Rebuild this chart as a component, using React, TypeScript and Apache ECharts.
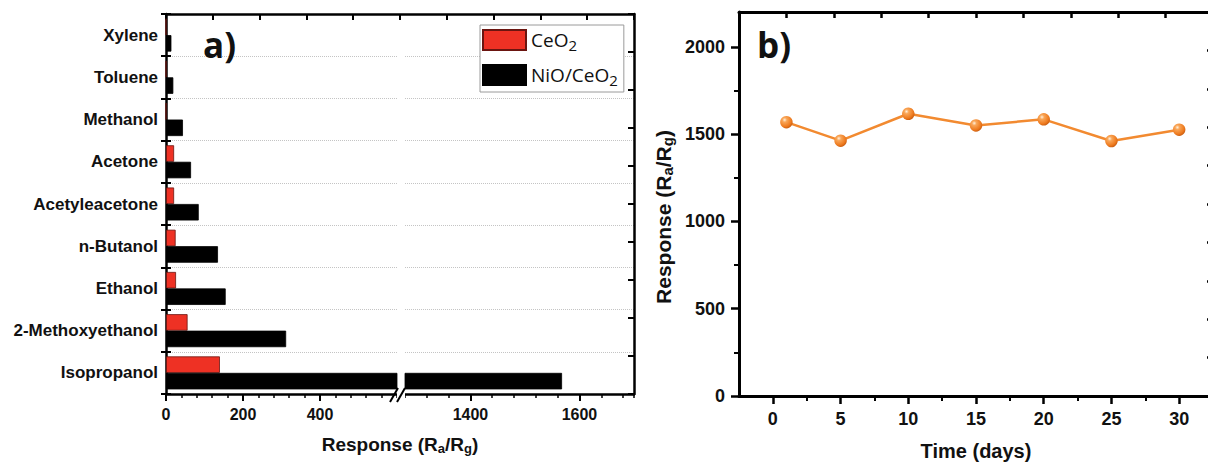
import React, { useEffect, useRef } from 'react';
import * as echarts from 'echarts';

// ---------- data ----------
const solvents = ['Isopropanol', '2-Methoxyethanol', 'Ethanol', 'n-Butanol', 'Acetyleacetone', 'Acetone', 'Methanol', 'Toluene', 'Xylene'];
const ceo2Response = [140, 56, 26, 25, 21, 21, 0, 0, 0];
const nioCeo2Response = [1568, 312, 155, 135, 85, 65, 44, 19, 14];
const lowAxisLabels = [0, 200, 400];
const highAxisLabels = [1400, 1600];
const days = [1, 5, 10, 15, 20, 25, 30];
const stabilityResponse = [1569, 1463, 1617, 1550, 1585, 1461, 1526];
const dayLabels = [0, 5, 10, 15, 20, 25, 30];
const dayMinorTicks = [2.5, 7.5, 12.5, 17.5, 22.5, 27.5];
const responseLabels = [0, 500, 1000, 1500, 2000];
const responseMinorTicks = [250, 750, 1250, 1750];

const LOW_MAX = 600;
const HIGH_MIN = 1280;
const HIGH_MAX = 1700;

const FONT = 'Liberation Sans';
const RED = '#ee3124';
const ORANGE = '#f28a30';

const plain = (v: number) => String(v);
const axisLine = (w: number) => ({ show: true, onZero: false, lineStyle: { color: '#000', width: w } });
const noLine = { show: false, onZero: false };
const tick = (len: number, w: number, extra: any = {}) => ({ show: true, length: len, lineStyle: { color: '#000', width: w }, ...extra });
const labelStyle = (size: number, margin: number, extra: any = {}) => ({
  fontFamily: FONT, fontWeight: 'bold', fontSize: size, color: '#111', margin, ...extra,
});
const subRich = (main: number, sub: number) => ({
  m: { fontFamily: FONT, fontWeight: 'bold', fontSize: main, color: '#111', lineHeight: main + 3 },
  s: { fontFamily: FONT, fontWeight: 'bold', fontSize: sub, color: '#111', lineHeight: sub, padding: [Math.round(main * 0.42), 0, 0, 0] },
});
const responseName = '{m|Response (R}{s|a}{m|/R}{s|g}{m|)}';
const grid = (left: number, top: number, width: number, height: number) => ({
  left, top, width, height, containLabel: false, outerBoundsMode: 'none',
});

export default function App() {
  const ref = useRef<HTMLDivElement>(null);
  useEffect(() => {
    if (!ref.current) return;
    const chart = echarts.init(ref.current, undefined, { renderer: 'svg' });
    const sphere = new echarts.graphic.RadialGradient(0.36, 0.32, 0.72, [
      { offset: 0, color: '#fff0dc' },
      { offset: 0.25, color: '#f9a658' },
      { offset: 0.75, color: '#ee7a1e' },
      { offset: 1, color: '#c85c10' },
    ]);
    const highOnly = (arr: number[]) => arr.map((v) => (v > HIGH_MIN ? v : '-'));
    const option: any = {
      animation: false,
      backgroundColor: '#fff',
      grid: [
        grid(166, 14, 231, 380), // a, low segment
        grid(405, 14, 229, 380), // a, high segment
        grid(166, 14, 468, 380), // a, frame
        grid(739, 12, 474, 384), // b
      ],
      legend: {
        data: ['CeO2', 'NiO/CeO2'],
        orient: 'vertical',
        left: 480,
        top: 25,
        icon: 'rect',
        itemWidth: 43,
        itemHeight: 20,
        itemGap: 11,
        padding: [3, 6, 5, 2],
        borderColor: '#9a9a9a',
        borderWidth: 1,
        backgroundColor: '#fff',
        selectedMode: false,
        formatter: (name: string) => (name === 'CeO2' ? '{t|CeO}{s|2}' : '{t|NiO/CeO}{s|2}'),
        textStyle: {
          rich: {
            t: { fontFamily: 'Open Sans', fontSize: 19, color: '#111', lineHeight: 22 },
            s: { fontFamily: 'Open Sans', fontSize: 15, color: '#111', lineHeight: 15, padding: [9, 0, 0, 0] },
          },
        },
      },
      xAxis: [
        {
          gridIndex: 0, type: 'value', min: 0, max: LOW_MAX, position: 'bottom',
          axisLine: axisLine(2.5), axisTick: tick(7, 2, { customValues: lowAxisLabels }),
          axisLabel: { ...labelStyle(16, 12), customValues: lowAxisLabels, formatter: plain }, splitLine: { show: false },
        },
        {
          gridIndex: 0, type: 'value', min: 0, max: LOW_MAX, interval: 40, position: 'bottom',
          axisLine: noLine, axisTick: tick(4, 1.5), axisLabel: { show: false }, splitLine: { show: false },
        },
        {
          gridIndex: 1, type: 'value', min: HIGH_MIN, max: HIGH_MAX, position: 'bottom',
          axisLine: axisLine(2.5), axisTick: tick(7, 2, { customValues: highAxisLabels }),
          axisLabel: { ...labelStyle(16, 12), customValues: highAxisLabels, formatter: plain }, splitLine: { show: false },
        },
        {
          gridIndex: 1, type: 'value', min: HIGH_MIN, max: HIGH_MAX, interval: 40, position: 'bottom',
          axisLine: noLine, axisTick: tick(4, 1.5), axisLabel: { show: false }, splitLine: { show: false },
        },
        {
          gridIndex: 2, type: 'value', min: 0, max: 10, interval: 1, position: 'top',
          axisLine: axisLine(2.5), axisTick: tick(6, 2, { inside: true }), axisLabel: { show: false }, splitLine: { show: false },
        },
        {
          gridIndex: 2, type: 'value', min: 0, max: 10, position: 'bottom',
          axisLine: noLine, axisTick: { show: false }, axisLabel: { show: false }, splitLine: { show: false },
          name: responseName, nameLocation: 'middle', nameGap: 39,
          nameTextStyle: { rich: subRich(19, 13) },
        },
        {
          gridIndex: 3, type: 'value', min: -2.5, max: 32.5, position: 'bottom',
          axisLine: axisLine(3), axisTick: tick(8, 2.5, { customValues: dayLabels }),
          axisLabel: { ...labelStyle(18, 14), customValues: dayLabels, formatter: plain }, splitLine: { show: false },
          name: 'Time (days)', nameLocation: 'middle', nameGap: 45,
          nameTextStyle: { fontFamily: FONT, fontWeight: 'bold', fontSize: 20, color: '#111' },
        },
        {
          gridIndex: 3, type: 'value', min: -2.5, max: 32.5, position: 'bottom',
          axisLine: noLine, axisTick: tick(5, 2, { customValues: dayMinorTicks }), axisLabel: { show: false }, splitLine: { show: false },
        },
        {
          gridIndex: 3, type: 'value', min: 0, max: 10, interval: 1, position: 'top',
          axisLine: axisLine(3), axisTick: tick(6, 2.5, { inside: true }), axisLabel: { show: false }, splitLine: { show: false },
        },
      ],
      yAxis: [
        {
          gridIndex: 0, type: 'category', data: solvents, position: 'left',
          axisLine: axisLine(2.5), axisTick: tick(5, 2),
          axisLabel: labelStyle(17, 8),
          splitLine: { show: true, lineStyle: { color: '#c4c4c4', type: 'dotted', width: 1 } },
        },
        {
          gridIndex: 0, type: 'category', data: solvents, position: 'left',
          axisLine: noLine, axisTick: tick(5, 2, { inside: true }), axisLabel: { show: false }, splitLine: { show: false },
        },
        {
          gridIndex: 1, type: 'category', data: solvents, position: 'left',
          axisLine: noLine, axisTick: { show: false }, axisLabel: { show: false },
          splitLine: { show: true, lineStyle: { color: '#c4c4c4', type: 'dotted', width: 1 } },
        },
        {
          gridIndex: 2, type: 'value', min: 0, max: 10, interval: 1, position: 'right',
          axisLine: axisLine(2.5), axisTick: tick(6, 2, { inside: true }), axisLabel: { show: false }, splitLine: { show: false },
        },
        {
          gridIndex: 3, type: 'value', min: 0, max: 2200, position: 'left',
          axisLine: axisLine(3), axisTick: tick(8, 2.5, { customValues: responseLabels }),
          axisLabel: { ...labelStyle(18, 14), customValues: responseLabels, formatter: plain }, splitLine: { show: false },
          name: responseName, nameLocation: 'middle', nameGap: 64, nameRotate: 90,
          nameTextStyle: { rich: subRich(21, 15), padding: [0, 26, 0, 0] },
        },
        {
          gridIndex: 3, type: 'value', min: 0, max: 2200, position: 'left',
          axisLine: noLine, axisTick: tick(5, 2, { customValues: responseMinorTicks }), axisLabel: { show: false }, splitLine: { show: false },
        },
        {
          gridIndex: 3, type: 'value', min: 0, max: 10, interval: 1, position: 'right',
          axisLine: axisLine(3), axisTick: tick(6, 2.5, { inside: true }), axisLabel: { show: false }, splitLine: { show: false },
        },
      ],
      series: [
        {
          type: 'bar', name: 'CeO2', xAxisIndex: 0, yAxisIndex: 0, data: ceo2Response, clip: true,
          barWidth: 16.5, barGap: '0%', itemStyle: { color: RED, borderColor: '#6b1510', borderWidth: 0.8 },
        },
        {
          type: 'bar', name: 'NiO/CeO2', xAxisIndex: 0, yAxisIndex: 0, data: nioCeo2Response, clip: true,
          barWidth: 16.5, barGap: '0%', itemStyle: { color: '#000', borderColor: '#000', borderWidth: 0.8 },
        },
        {
          type: 'bar', name: 'CeO2', xAxisIndex: 2, yAxisIndex: 2, data: highOnly(ceo2Response), clip: true,
          barWidth: 16.5, barGap: '0%', itemStyle: { color: RED, borderColor: '#6b1510', borderWidth: 0.8 },
        },
        {
          type: 'bar', name: 'NiO/CeO2', xAxisIndex: 2, yAxisIndex: 2, data: highOnly(nioCeo2Response), clip: true,
          barWidth: 16.5, barGap: '0%', itemStyle: { color: '#000', borderColor: '#000', borderWidth: 0.8 },
        },
        {
          type: 'line', name: 'Stability', xAxisIndex: 6, yAxisIndex: 4,
          data: days.map((d, i) => [d, stabilityResponse[i]]),
          symbol: 'circle', symbolSize: 12.5, z: 5,
          lineStyle: { color: ORANGE, width: 2.5 },
          itemStyle: { color: sphere, borderWidth: 0 },
        },
      ],
      graphic: [
        { type: 'text', z: 10, style: { x: 203, y: 44, text: 'a)', font: 'bold 35px "Open Sans"', fill: '#111', align: 'left', verticalAlign: 'middle' } },
        { type: 'text', z: 10, style: { x: 757, y: 44, text: 'b)', font: 'bold 35px "Open Sans"', fill: '#111', align: 'left', verticalAlign: 'middle' } },
        { type: 'rect', z: 9, shape: { x: 397, y: 389, width: 8, height: 10 }, style: { fill: '#fff' } },
        { type: 'line', z: 10, shape: { x1: 390, y1: 402, x2: 398, y2: 388 }, style: { stroke: '#000', lineWidth: 2 } },
        { type: 'line', z: 10, shape: { x1: 397, y1: 402, x2: 405, y2: 388 }, style: { stroke: '#000', lineWidth: 2 } },
      ],
    };
    chart.setOption(option);
    return () => chart.dispose();
  }, []);
  return (
    <div
      ref={ref}
      style={{ position: 'fixed', left: 0, top: 0, width: 1208, height: 462, background: '#fff' }}
    />
  );
}
